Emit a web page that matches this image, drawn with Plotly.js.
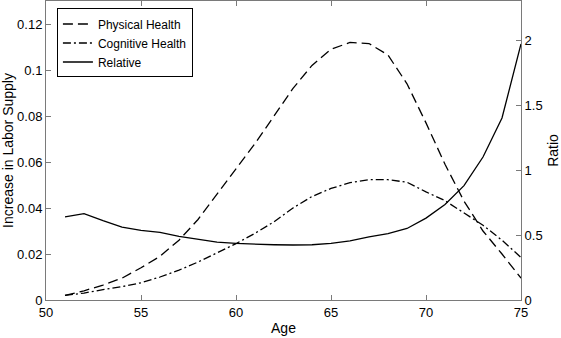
<!DOCTYPE html>
<html>
<head>
<meta charset="utf-8">
<script src="https://cdn.plot.ly/plotly-3.0.1.min.js"></script>
<style>
  body { margin: 0; padding: 0; background: white; }
  #graph { width: 561px; height: 338px; }
</style>
</head>
<body>
<div id="graph"></div>
<script>
// ages on the x axis
var age = [51, 52, 53, 54, 55, 56, 57, 58, 59, 60, 61, 62, 63,
           64, 65, 66, 67, 68, 69, 70, 71, 72, 73, 74, 75];

// increase in labor supply, left axis
var physical = [0.002, 0.004, 0.0065, 0.0095, 0.014, 0.019, 0.026, 0.035, 0.046, 0.057,
                0.068, 0.080, 0.092, 0.102, 0.109, 0.112, 0.1115, 0.1065, 0.094, 0.077,
                0.059, 0.043, 0.030, 0.020, 0.0095];
var cognitive = [0.002, 0.003, 0.0045, 0.0058, 0.0075, 0.010, 0.013, 0.0165, 0.0205, 0.0245,
                 0.029, 0.034, 0.040, 0.045, 0.0485, 0.051, 0.0523, 0.0523, 0.0512, 0.047,
                 0.0432, 0.038, 0.0325, 0.026, 0.0185];

// ratio, right axis
var relative = [0.64, 0.665, 0.61, 0.56, 0.535, 0.52, 0.49, 0.465, 0.445, 0.435,
                0.428, 0.425, 0.423, 0.425, 0.435, 0.455, 0.485, 0.51, 0.55, 0.63,
                0.735, 0.88, 1.1, 1.4, 1.97];

var axisGrey = '#7a7a7a';
var fam = 'Liberation Sans, Arial, sans-serif';
var font = {family: fam, size: 13, color: 'black'};
var titleFont = {family: fam, size: 14, color: 'black'};

var traces = [
  {x: age, y: physical, mode: 'lines', name: 'Physical Health',
   line: {color: 'black', width: 1.3, dash: '10px,5px'}},
  {x: age, y: cognitive, mode: 'lines', name: 'Cognitive Health',
   line: {color: 'black', width: 1.3, dash: '8px,3px,2px,3px'}},
  {x: age, y: relative, mode: 'lines', name: 'Relative', yaxis: 'y2',
   line: {color: 'black', width: 1.3}}
];

var layout = {
  width: 561,
  height: 338,
  margin: {l: 46, r: 40, t: 1, b: 38},
  font: font,
  paper_bgcolor: 'white',
  plot_bgcolor: 'white',
  showlegend: true,
  legend: {
    x: 0.023, y: 0.975, xanchor: 'left', yanchor: 'top',
    bordercolor: 'black', borderwidth: 1, bgcolor: 'white',
    font: {family: fam, size: 12, color: 'black'}
  },
  xaxis: {
    title: {text: 'Age', standoff: 4, font: titleFont},
    range: [50, 75],
    tickvals: [50, 55, 60, 65, 70, 75],
    ticks: 'inside', ticklen: 5, tickcolor: axisGrey,
    showline: true, linecolor: axisGrey, mirror: 'ticks',
    showgrid: false, zeroline: false
  },
  yaxis: {
    title: {text: 'Increase in Labor Supply', standoff: 4, font: titleFont},
    range: [0, 0.13],
    tickvals: [0, 0.02, 0.04, 0.06, 0.08, 0.1, 0.12],
    ticktext: ['0', '0.02', '0.04', '0.06', '0.08', '0.1', '0.12'],
    ticks: 'inside', ticklen: 5, tickcolor: axisGrey,
    showline: true, linecolor: axisGrey,
    showgrid: false, zeroline: false
  },
  yaxis2: {
    title: {text: 'Ratio', standoff: 8, font: titleFont},
    overlaying: 'y', side: 'right',
    range: [0, 2.3],
    tickvals: [0, 0.5, 1, 1.5, 2],
    ticktext: ['0', '0.5', '1', '1.5', '2'],
    ticks: 'inside', ticklen: 5, tickcolor: axisGrey,
    showline: true, linecolor: axisGrey,
    showgrid: false, zeroline: false
  }
};

Plotly.newPlot('graph', traces, layout, {displayModeBar: false, staticPlot: true});
</script>
</body>
</html>
